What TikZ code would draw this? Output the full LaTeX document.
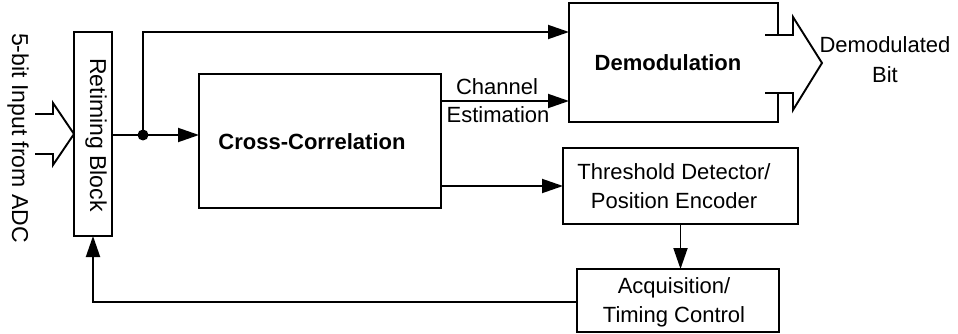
\documentclass[tikz,border=0pt]{standalone}
\usepackage{fontspec}
\setmainfont{Liberation Sans}
\usetikzlibrary{arrows.meta}
\begin{document}
\begin{tikzpicture}[x=1pt,y=-1pt,
  line width=1.9pt,
  box/.style={draw, rectangle, inner sep=0pt, outer sep=0pt},
  frame/.style={rectangle, inner sep=0pt, outer sep=0pt},
  lbl/.style={inner sep=0pt, align=center, font=\fontsize{22}{29}\selectfont},
  blbl/.style={inner sep=0pt, align=center, font=\fontsize{22}{29}\selectfont\bfseries},
  vlbl/.style={inner sep=0pt, rotate=-90, font=\fontsize{23}{29}\selectfont},
  flow/.style={-{Triangle[length=21pt,width=14pt]}},
]
\useasboundingbox (0,0) rectangle (958,334);

% blocks
\node[box, minimum width=38pt, minimum height=204pt] (rt) at (93,134) {};
\node[box, minimum width=242pt, minimum height=134pt] (cc) at (320,141) {};
\node[frame, minimum width=209pt, minimum height=119pt] (dm) at (673.5,62.5) {};
\node[box, minimum width=235pt, minimum height=76pt] (th) at (680.5,186) {};
\node[box, minimum width=202pt, minimum height=63pt] (acq) at (678,300.5) {};

% block labels
\node[vlbl] (rtl) at (96,135) {Retiming Block};
\node[blbl] (ccl) at (312,142) {Cross-Correlation};
\node[blbl] (dml) at (668,63) {Demodulation};
\node[lbl] (thl) at (674,186) {Threshold Detector/\\Position Encoder};
\node[lbl] (acql) at (674,302) {Acquisition/\\Timing Control};

% demodulator outline, open where the output bus leaves it
\coordinate (dmt) at (778,35);
\coordinate (dmb) at (778,93);
\draw (dmt) -- (dm.north east) -- (dm.north west) -- (dm.south west)
      -- (dm.south east) -- (dmb);

% input bus
\node[vlbl] (adc) at (18,138) {5-bit Input from ADC};
\draw (35,114) -- (53,114) -- (53,103) -- (rt.west) -- (53,165) -- (53,154) -- (35,154);

% output bus
\draw (765,35) -- (793,35) -- (793,17) -- (822,63) -- (793,110) -- (793,93) -- (765,93);
\node[lbl, font=\fontsize{22}{30}\selectfont] (db) at (885,60) {Demodulated\\Bit};

% forward paths
\coordinate (j) at (143,135);
\coordinate (jt) at (143,32);
\draw (rt.east |- j) -- (j);
\draw[flow] (j) -- (cc.west |- j);
\draw[flow] (j) -- (jt) -- (jt -| dm.west);
\fill (j) circle (5.5pt);

\coordinate (ce) at (441,101);
\draw[flow] (cc.east |- ce) -- (dm.west |- ce);
\node[lbl, anchor=base] (chl) at (497,95) {Channel};
\node[lbl, anchor=base] (esl) at (498,123) {Estimation};

\draw[flow] (cc.east |- th.west) -- (th.west);
\draw[flow] (th.south) -- (th.south |- acq.north);

% feedback to the retiming block
\coordinate (fb) at (93,302);
\draw[flow] (acq.west |- fb) -- (fb) -- (rt.south);
\end{tikzpicture}
\end{document}
